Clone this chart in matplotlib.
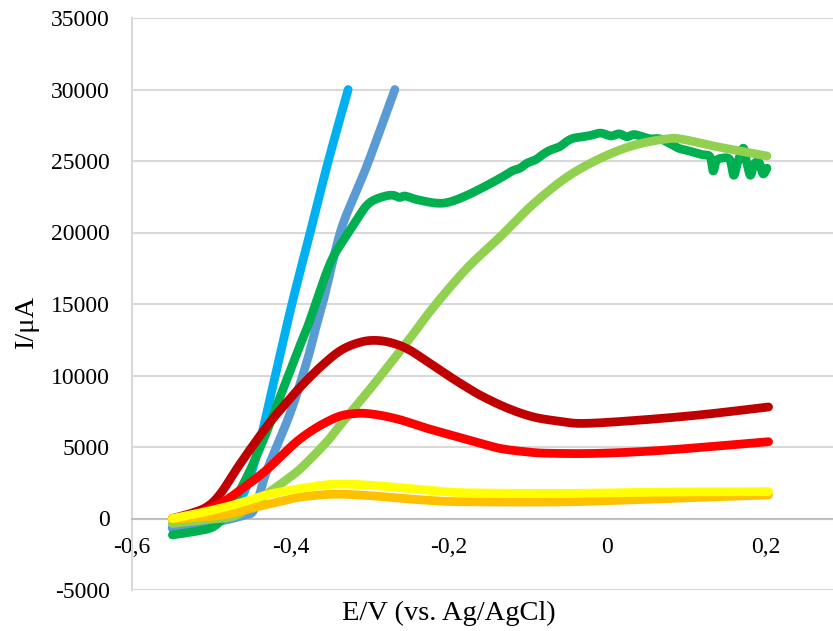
import numpy as np
import matplotlib
matplotlib.use("Agg")
from matplotlib import pyplot as plt

# potential (V vs Ag/AgCl) and current (uA)
light_blue_x = [-0.549, -0.52, -0.49, -0.47, -0.455, -0.44, -0.419, -0.398, -0.375, -0.352, -0.327]
light_blue_y = [-700, -450, -50, 700, 2300, 5000, 10000, 15000, 20000, 25000, 30000]

steel_blue_x = [-0.549, -0.5, -0.46, -0.445, -0.43, -0.4, -0.379, -0.3685, -0.358, -0.337, -0.318, -0.301, -0.268]
steel_blue_y = [-600, -300, 200, 700, 3300, 7400, 11000, 13200, 15300, 20000, 22700, 25000, 30000]

green_x = [-0.549, -0.52, -0.495, -0.476, -0.455, -0.434, -0.413, -0.39, -0.377,
           -0.35, -0.33, -0.316, -0.305, -0.295, -0.28, -0.27, -0.262, -0.255, -0.24, -0.215,
           -0.198, -0.177, -0.155, -0.135, -0.12, -0.11, -0.101, -0.09, -0.08, -0.072, -0.06,
           -0.05, -0.042, -0.03, -0.02, -0.008, 0.005, 0.015, 0.025, 0.034, 0.045, 0.055, 0.067,
           0.08, 0.09, 0.097, 0.11, 0.12, 0.13, 0.134, 0.138, 0.145, 0.155, 0.16, 0.165, 0.172,
           0.176, 0.181, 0.186, 0.192, 0.197, 0.202]
green_y = [-1150, -900, -500, 800, 2900, 5500, 8500, 11800, 13600,
           17800, 19700, 20900, 21800, 22250, 22550, 22600, 22450, 22550, 22300, 22050,
           22150, 22600, 23200, 23800, 24300, 24500, 24850, 25100, 25500, 25750, 26000,
           26400, 26600, 26700, 26800, 26950, 26750, 26900, 26700, 26850, 26700, 26550, 26550,
           26200, 25900, 25800, 25600, 25450, 25300, 24300, 25000, 25200, 25100, 24000, 24900, 25900,
           25000, 24000, 24800, 24900, 24100, 24500]

light_green_x = [-0.549, -0.51, -0.472, -0.45, -0.429, -0.41, -0.387, -0.355, -0.339, -0.324, -0.29, -0.249,
                 -0.219, -0.177, -0.135, -0.093, -0.05, -0.008, 0.034, 0.076, 0.097, 0.139, 0.202]
light_green_y = [-350, -100, 150, 900, 1750, 2500, 3500, 5300, 6400, 7400, 9700, 12600,
                 14800, 17500, 19700, 22000, 23900, 25200, 26100, 26550, 26500, 26000, 25350]

dark_red_x = [-0.549, -0.526, -0.505, -0.488, -0.463, -0.43, -0.408, -0.387, -0.36, -0.335, -0.31,
              -0.29, -0.27, -0.25, -0.225, -0.198, -0.175, -0.156, -0.125, -0.093, -0.06, -0.03,
              0.034, 0.118, 0.204]
dark_red_y = [0, 350, 830, 1760, 3860, 6420, 7900, 9220, 10700, 11800, 12350,
              12450, 12250, 11800, 10900, 9900, 9100, 8500, 7700, 7100, 6800, 6650,
              6850, 7250, 7800]

red_x = [-0.549, -0.52, -0.488, -0.463, -0.43, -0.387, -0.345, -0.316,
         -0.29, -0.261, -0.23, -0.198, -0.165, -0.135, -0.1, -0.072, -0.009, 0.076, 0.204]
red_y = [0, 300, 1060, 2000, 3400, 5600, 7000, 7350,
         7250, 6900, 6350, 5850, 5350, 4900, 4650, 4560, 4560, 4790, 5370]

orange_x = [-0.549, -0.5, -0.472, -0.44, -0.408, -0.387, -0.345, -0.3, -0.261, -0.22,
            -0.177, -0.05, 0.076, 0.204]
orange_y = [-50, 150, 400, 850, 1250, 1500, 1700, 1600, 1420, 1250,
            1170, 1170, 1400, 1650]

yellow_x = [-0.549, -0.513, -0.472, -0.43, -0.408, -0.387, -0.345, -0.3, -0.261,
            -0.22, -0.177, -0.05, 0.076, 0.204]
yellow_y = [0, 400, 950, 1650, 1900, 2100, 2400, 2330, 2150,
            1950, 1800, 1760, 1850, 1880]

x_ticks = [-0.6, -0.4, -0.2, 0, 0.2]
x_tick_labels = ["-0,6", "-0,4", "-0,2", "0", "0,2"]
y_ticks = [-5000, 0, 5000, 10000, 15000, 20000, 25000, 30000, 35000]

series = [
    (light_blue_x, light_blue_y, "#00b0f0"),
    (steel_blue_x, steel_blue_y, "#5b9bd5"),
    (green_x, green_y, "#00b050"),
    (light_green_x, light_green_y, "#92d050"),
    (dark_red_x, dark_red_y, "#c00000"),
    (red_x, red_y, "#ff0000"),
    (orange_x, orange_y, "#ffc000"),
    (yellow_x, yellow_y, "#ffff00"),
]


def smooth_path(xs, ys, steps=12):
    # excel-style smoothed line: catmull-rom through the given points
    p = np.column_stack([xs, ys]).astype(float)
    p = np.vstack([p[0], p, p[-1]])
    out = []
    t = np.linspace(0, 1, steps, endpoint=False)[:, None]
    for i in range(1, len(p) - 2):
        p0, p1, p2, p3 = p[i - 1], p[i], p[i + 1], p[i + 2]
        seg = 0.5 * ((2 * p1) + (-p0 + p2) * t + (2 * p0 - 5 * p1 + 4 * p2 - p3) * t ** 2
                     + (-p0 + 3 * p1 - 3 * p2 + p3) * t ** 3)
        out.append(seg)
    out.append(p[-2][None, :])
    out = np.vstack(out)
    return out[:, 0], out[:, 1]


plt.rcParams['font.family'] = ['Liberation Serif', 'DejaVu Serif']

fig = plt.figure(figsize=(8.33, 6.31), dpi=100)
ax = fig.add_axes([132 / 833, 1 - 590 / 631, 1 - 132 / 833, (590 - 18) / 631])

for i, (xs, ys, col) in enumerate(series):
    sx, sy = smooth_path(xs, ys)
    ax.plot(sx, sy, color=col, lw=6.3, solid_capstyle='round', solid_joinstyle='round', zorder=3 + i)

ax.set_xlim(-0.6, 0.2854)
ax.set_ylim(-5000, 35000)
ax.set_yticks(y_ticks)
ax.set_yticklabels([str(v) for v in y_ticks])
ax.set_xticks(x_ticks)
ax.set_xticklabels(x_tick_labels)

ax.grid(axis='y', color='#d9d9d9', lw=1.5, zorder=0)
ax.set_axisbelow(True)
for s in ['top', 'right']:
    ax.spines[s].set_visible(False)
ax.spines['left'].set_color('#d9d9d9')
ax.spines['left'].set_linewidth(1.5)
ax.spines['bottom'].set_position(('data', 0))
ax.spines['bottom'].set_color('#bfbfbf')
ax.spines['bottom'].set_linewidth(1.5)
ax.tick_params(axis='both', length=0, labelsize=17, colors='black')
ax.tick_params(axis='y', pad=16)
ax.tick_params(axis='x', pad=13)

fig.text(449 / 833, 1 - 613 / 631, "E/V (vs. Ag/AgCl)", ha='center', va='center', fontsize=20.5)
fig.text(27 / 833, 1 - 322 / 631, "I/\u03bcA", ha='center', va='center', rotation=90, fontsize=20.5)

plt.savefig("out.png", dpi=100)
